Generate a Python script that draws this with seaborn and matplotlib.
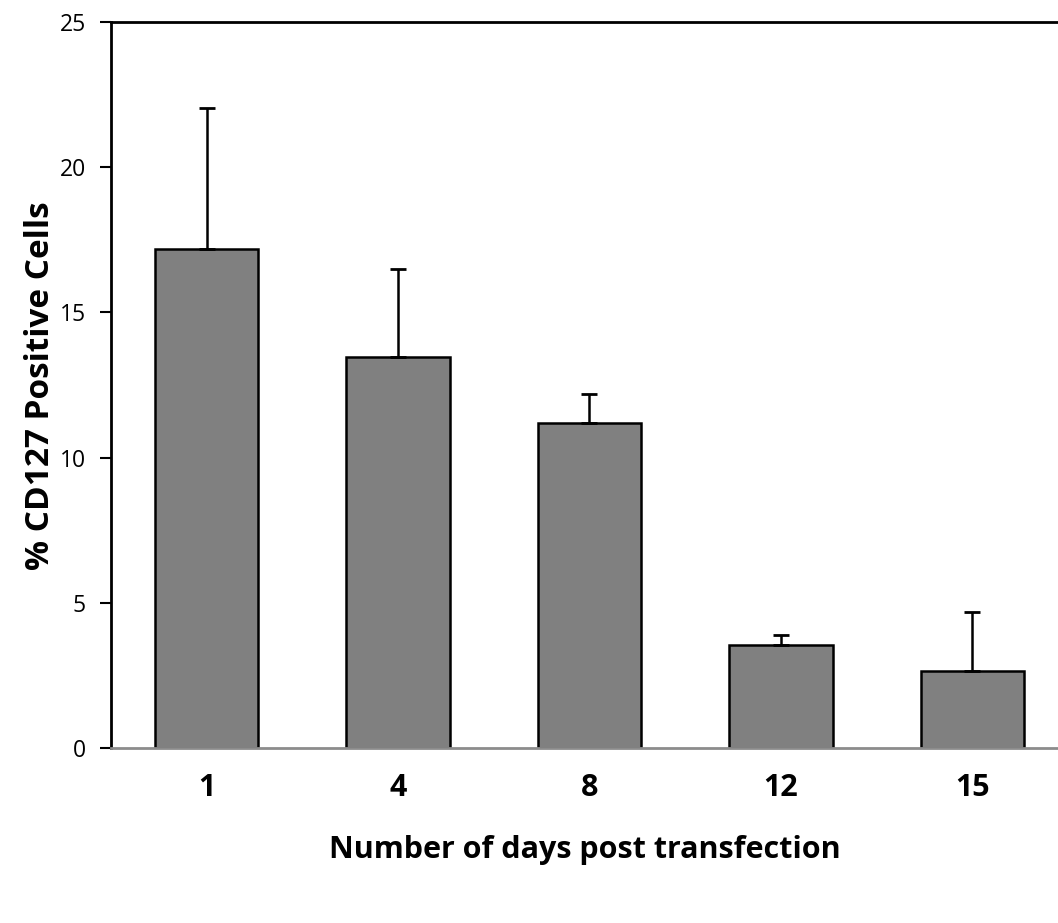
import matplotlib
matplotlib.use("Agg")
import matplotlib.pyplot as plt
import seaborn as sns
import pandas as pd
import numpy as np

days = ["1", "4", "8", "12", "15"]
means = [17.2, 13.45, 11.2, 3.55, 2.65]
err_upper = [22.03, 16.5, 12.2, 3.9, 4.7]

sns.set_theme(style="white")
plt.rcParams['font.family'] = ['Open Sans', 'DejaVu Sans']
plt.rcParams['text.color'] = 'black'
plt.rcParams['axes.labelcolor'] = 'black'
plt.rcParams['xtick.color'] = 'black'
plt.rcParams['ytick.color'] = 'black'

df = pd.DataFrame({"day": days, "value": means})

fig = plt.figure(figsize=(10.58, 9.23), dpi=100)
ax = fig.add_axes([111/1058, 1-748/923, 1-111/1058, (748-22)/923])

sns.barplot(data=df, x="day", y="value", color="#808080", saturation=1,
            width=0.54, edgecolor="black", linewidth=1.8, errorbar=None, ax=ax)

x = np.arange(len(days))
yerr = np.array(err_upper) - np.array(means)
ax.errorbar(x, means, yerr=[np.zeros(len(days)), yerr], fmt="none",
            ecolor="black", elinewidth=1.8, capsize=6, capthick=2, zorder=3)

ax.set_ylim(0, 25)
ax.set_xlim(-0.5, 4.5 - 10/191.5)
ax.set_yticks([0, 5, 10, 15, 20, 25])
ax.tick_params(axis="y", left=True, length=8, width=1.5, color="black",
               labelcolor="black", labelsize=16.5, pad=10)
ax.tick_params(axis="x", bottom=False, labelcolor="black", labelsize=22, pad=12)
for lbl in ax.get_xticklabels():
    lbl.set_fontweight("bold")

ax.spines["left"].set_color("black")
ax.spines["left"].set_linewidth(2)
ax.spines["top"].set_color("black")
ax.spines["top"].set_linewidth(2)
ax.spines["right"].set_visible(False)
ax.spines["bottom"].set_color("#8c8c8c")
ax.spines["bottom"].set_linewidth(2)

ax.set_xlabel("Number of days post transfection", fontsize=22, fontweight="bold", color="black")
ax.xaxis.set_label_coords(0.5, (748-850)/726)
ax.xaxis.label.set_verticalalignment("center")
ax.set_ylabel("% CD127 Positive Cells", fontsize=24, fontweight="bold", color="black")
ax.yaxis.set_label_coords(-(111-41)/947, (748-386)/726)
ax.yaxis.label.set_verticalalignment("center")

fig.savefig("out.png", dpi=100)
